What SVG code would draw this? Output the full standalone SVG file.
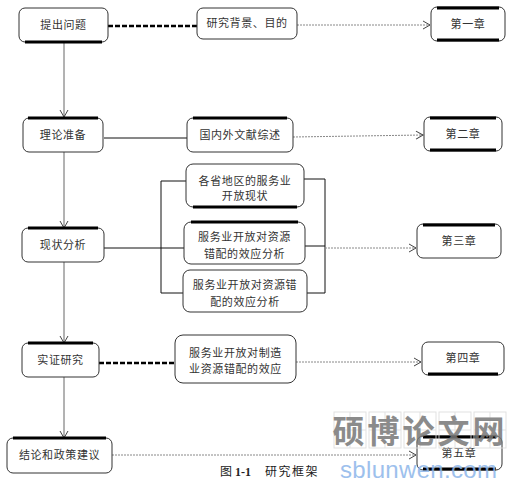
<svg xmlns="http://www.w3.org/2000/svg" width="523" height="483" viewBox="0 0 523 483">
<style>
.box{fill:#fff;stroke:#333;stroke-width:1}
.bar{stroke:#000;stroke-width:3}
.t{font-family:"Noto Sans CJK SC","Noto Sans",sans-serif;font-size:11px;fill:#333;text-anchor:middle;letter-spacing:0.6px}
.solid{stroke:#111;stroke-width:1;fill:none}
.dash{stroke:#000;stroke-width:2.5;stroke-dasharray:5 2;fill:none}
.dot{stroke:#888;stroke-width:1;stroke-dasharray:2 1;fill:none}
.vert{stroke:#666;stroke-width:1;fill:none}
</style>
<defs>
<marker id="av" markerWidth="10" markerHeight="10" refX="8" refY="5" orient="auto" markerUnits="userSpaceOnUse">
<path d="M1,1 L8,5 L1,9" fill="none" stroke="#444" stroke-width="1"/>
</marker>
</defs>
<rect width="523" height="483" fill="#fff"/>
<g id="connectors">
<line class="vert" x1="64" y1="42" x2="64" y2="117" marker-end="url(#av)"/>
<line class="vert" x1="64" y1="152" x2="64" y2="228" marker-end="url(#av)"/>
<line class="vert" x1="64" y1="262" x2="64" y2="343" marker-end="url(#av)"/>
<line class="vert" x1="64" y1="377" x2="64" y2="438" marker-end="url(#av)"/>
<line class="dash" x1="108" y1="26" x2="197" y2="26"/>
<line class="dot" x1="297" y1="25" x2="430" y2="25" marker-end="url(#av)"/>
<line class="solid" x1="104" y1="138" x2="187" y2="138"/>
<line class="dot" x1="293" y1="137" x2="423" y2="135" marker-end="url(#av)"/>
<line class="solid" x1="104" y1="248" x2="184" y2="248"/>
<polyline class="solid" points="186,181 161,181 161,293 183,293"/>
<polyline class="solid" points="304,179 325,179 325,293 307,293"/>
<line class="solid" x1="305" y1="246" x2="325" y2="246"/>
<line class="dot" x1="325" y1="248" x2="416" y2="248" marker-end="url(#av)"/>
<line class="dash" x1="99" y1="363" x2="175" y2="363"/>
<line class="dot" x1="296" y1="362" x2="421" y2="362" marker-end="url(#av)"/>
<line class="dot" x1="112" y1="455" x2="416" y2="455" marker-end="url(#av)"/>
</g>
<g id="n1"><rect class="box" x="19" y="8" width="89" height="34" rx="6"/><line class="bar" x1="25" y1="42" x2="102" y2="42"/><text class="t" x="63.5" y="29">提出问题</text></g>
<g id="n2"><rect class="box" x="23" y="118" width="80" height="34" rx="6"/><line class="bar" x1="28" y1="118" x2="98" y2="118"/><text class="t" x="63" y="139">理论准备</text></g>
<g id="n3"><rect class="box" x="22" y="228" width="82" height="34" rx="6"/><line class="bar" x1="28" y1="228" x2="98" y2="228"/><text class="t" x="63" y="249">现状分析</text></g>
<g id="n4"><rect class="box" x="22" y="343" width="77" height="34" rx="6"/><line class="bar" x1="28" y1="343" x2="93" y2="343"/><text class="t" x="60.5" y="364">实证研究</text></g>
<g id="n5"><rect class="box" x="7" y="438" width="105" height="35" rx="6"/><line class="bar" x1="13" y1="438" x2="106" y2="438"/><text class="t" x="59.5" y="459">结论和政策建议</text></g>
<g id="m1"><rect class="box" x="197" y="8" width="100" height="31" rx="6"/><text class="t" x="247" y="27">研究背景、目的</text></g>
<g id="m2"><rect class="box" x="187" y="118" width="106" height="34" rx="6"/><line class="bar" x1="193" y1="118" x2="287" y2="118"/><text class="t" x="240" y="139">国内外文献综述</text></g>
<g id="m3"><rect class="box" x="186" y="164" width="118" height="43" rx="7"/><line class="bar" x1="193" y1="207" x2="297" y2="207"/><text class="t" x="245" y="185">各省地区的服务业</text><text class="t" x="245" y="200">开放现状</text></g>
<g id="m4"><rect class="box" x="184" y="222" width="121" height="42" rx="7"/><line class="bar" x1="191" y1="222" x2="298" y2="222"/><text class="t" x="244.5" y="241">服务业开放对资源</text><text class="t" x="244.5" y="258">错配的效应分析</text></g>
<g id="m5"><rect class="box" x="183" y="270" width="124" height="42" rx="7"/><text class="t" x="245" y="289">服务业开放对资源错</text><text class="t" x="245" y="306">配的效应分析</text></g>
<g id="m6"><rect class="box" x="175" y="335" width="121" height="48" rx="8"/><text class="t" x="235.5" y="357">服务业开放对制造</text><text class="t" x="235.5" y="373">业资源错配的效应</text></g>
<g id="c1"><rect class="box" x="431" y="7" width="74" height="34" rx="6"/><line class="bar" x1="437" y1="8" x2="499" y2="8"/><line class="bar" x1="437" y1="40" x2="499" y2="40"/><text class="t" x="468" y="28">第一章</text></g>
<g id="c2"><rect class="box" x="424" y="117" width="78" height="34" rx="6"/><line class="bar" x1="430" y1="118" x2="496" y2="118"/><line class="bar" x1="430" y1="150" x2="496" y2="150"/><text class="t" x="463" y="138">第二章</text></g>
<g id="c3"><rect class="box" x="417" y="224" width="84" height="34" rx="6"/><line class="bar" x1="423" y1="225" x2="495" y2="225"/><text class="t" x="459" y="245">第三章</text></g>
<g id="c4"><rect class="box" x="422" y="342" width="82" height="33" rx="6"/><line class="bar" x1="428" y1="374" x2="498" y2="374"/><text class="t" x="463" y="362">第四章</text></g>
<g id="c5"><rect class="box" x="417" y="436" width="85" height="34" rx="6"/><line class="bar" x1="423" y1="437" x2="496" y2="437"/><line class="bar" x1="423" y1="469" x2="496" y2="469"/><text class="t" x="459" y="457">第五章</text></g>
<text x="220" y="476" font-family="Liberation Serif,'Noto Sans CJK SC',serif" font-size="12" fill="#222">图 <tspan font-weight="bold">1-1</tspan><tspan x="265" letter-spacing="1.5">研究框架</tspan></text>
<g id="watermark" opacity="0.85">
<g fill="none" stroke="#ddd" stroke-width="1">
<rect x="334" y="412" width="32" height="36"/><line x1="350" y1="412" x2="350" y2="448"/><line x1="334" y1="430" x2="366" y2="430"/>
<rect x="369" y="412" width="32" height="36"/><line x1="385" y1="412" x2="385" y2="448"/><line x1="369" y1="430" x2="401" y2="430"/>
<rect x="404" y="412" width="32" height="36"/><line x1="420" y1="412" x2="420" y2="448"/><line x1="404" y1="430" x2="436" y2="430"/>
<rect x="439" y="412" width="32" height="36"/><line x1="455" y1="412" x2="455" y2="448"/><line x1="439" y1="430" x2="471" y2="430"/>
<rect x="474" y="412" width="32" height="36"/><line x1="490" y1="412" x2="490" y2="448"/><line x1="474" y1="430" x2="506" y2="430"/>
</g>
<text x="420" y="443" font-family="'Noto Sans CJK SC',sans-serif" font-size="32" font-weight="bold" fill="#777" text-anchor="middle" letter-spacing="3">硕博论文网</text>
<text x="340" y="478" font-family="Liberation Sans,sans-serif" font-size="24" fill="#8db6ea" textLength="157">sblunwen.com</text>
</g>
</svg>
